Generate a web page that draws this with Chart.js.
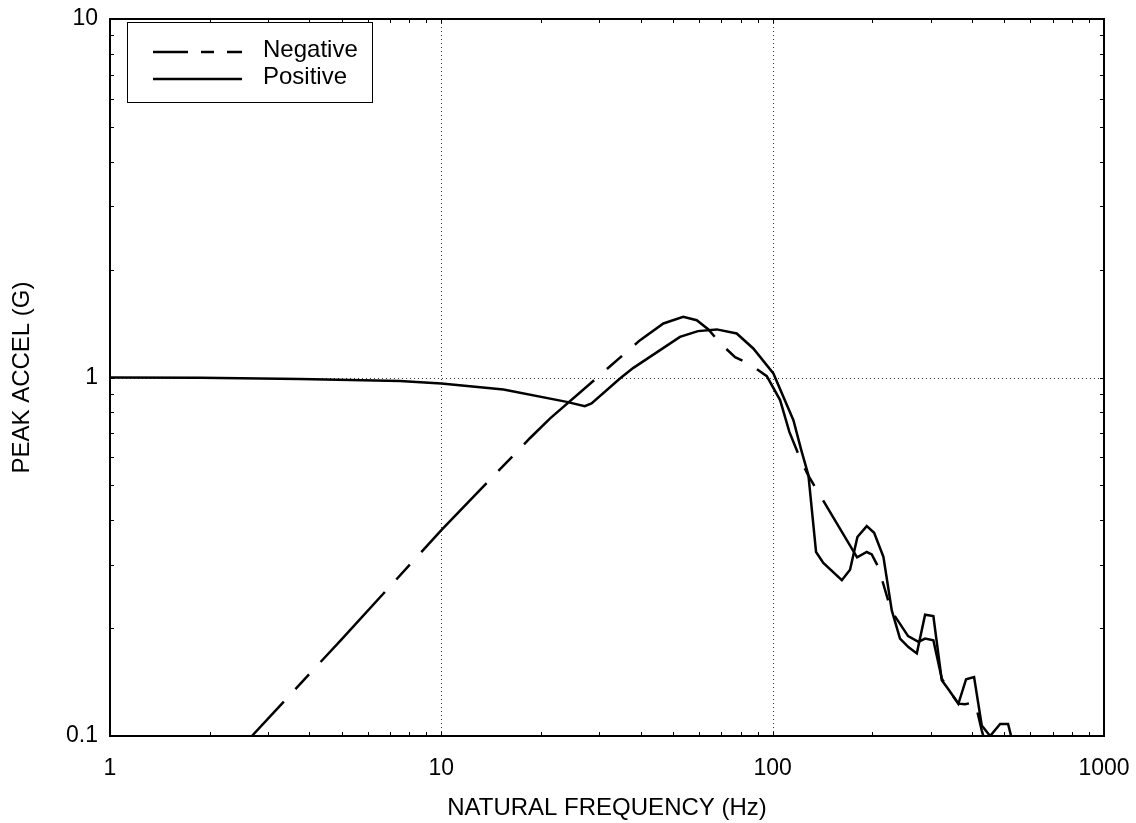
<!DOCTYPE html>
<html>
<head>
<meta charset="utf-8">
<script src="https://cdn.jsdelivr.net/npm/chart.js@4.4.0/dist/chart.umd.min.js"></script>
<style>
  body { margin: 0; background: #fff; }
</style>
</head>
<body>
<canvas id="myChart" width="1136" height="823"></canvas>
<script>
// ---- dados ----
const seriesNames = ['Negative', 'Positive'];

const negFreq  = [2.68, 5.0, 10.0, 18.5, 21.3, 30.1, 39.8, 46.8, 53.7, 59.0, 64.0, 69.4, 77.0, 84.3, 96.0, 105.3, 112.3, 121.6, 127.9,
                  179.8, 192.3, 199.1, 208.4, 227.7, 256.3, 275.4, 288.4, 305.5, 323.9, 343.2, 363.5, 380.8, 408.2, 427.6, 437.5];
const negAccel = [0.100, 0.186, 0.375, 0.677, 0.769, 1.015, 1.271, 1.415, 1.476, 1.445, 1.362, 1.247, 1.140, 1.096, 1.009, 0.865, 0.705, 0.588, 0.534,
                  0.315, 0.326, 0.321, 0.296, 0.224, 0.190, 0.183, 0.187, 0.185, 0.1446, 0.1327, 0.1231, 0.1226, 0.1244, 0.1037, 0.096];

const posFreq  = [1.0, 1.87, 3.74, 7.5, 10.0, 15.4, 23.9, 27.1, 28.4, 34.6, 37.9, 52.5, 59.5, 67.8, 77.9, 87.4, 100.5, 115.5, 122.4, 128.2,
                  135.2, 142.2, 161.7, 171.2, 180.2, 192.3, 202.4, 215.9, 228.8, 242.3, 256.8, 272.3, 288.4, 305.5, 323.9, 339.1,
                  363.5, 383.5, 405.4, 427.6, 453.2, 485.8, 513.5, 524.3, 535.0];
const posAccel = [1.0, 0.998, 0.990, 0.977, 0.9625, 0.926, 0.855, 0.832, 0.847, 0.994, 1.062, 1.298, 1.347, 1.362, 1.327, 1.205, 1.026, 0.760, 0.620, 0.534,
                  0.326, 0.304, 0.272, 0.291, 0.359, 0.385, 0.369, 0.316, 0.224, 0.187, 0.177, 0.170, 0.218, 0.216, 0.143, 0.135,
                  0.123, 0.144, 0.146, 0.107, 0.100, 0.108, 0.108, 0.100, 0.091];

const xTicks = [1, 10, 100, 1000];
const yTicks = [0.1, 1, 10];
const xGrid = [10, 100];
const yGrid = [1];

const FONTE = "'Liberation Sans', Arial, sans-serif";
const DASH_NEG = [95, 17, 20, 17];
const DASH_LEGENDA = [35, 13, 13, 13];

function pares(fs, as) {
	return fs.map(function(f, i) { return { x: f, y: as[i] }; });
}

// valores 1..9 em cada decada, para as marcas menores
function valoresLog(min, max) {
	let out = [];
	for (let d = min; d < max; d *= 10) {
		for (let k = 1; k < 10; k++) out.push(d * k);
	}
	out.push(max);
	return out;
}

const moldura = {
	id: 'moldura',
	beforeDatasetsDraw(chart) {
		const ctx = chart.ctx, a = chart.chartArea;
		const sx = chart.scales.x, sy = chart.scales.y;
		ctx.save();
		ctx.strokeStyle = '#333';
		ctx.lineWidth = 1;
		ctx.setLineDash([1, 3]);
		xGrid.forEach(function(v) {
			const px = Math.round(sx.getPixelForValue(v)) + 0.5;
			ctx.beginPath(); ctx.moveTo(px, a.top); ctx.lineTo(px, a.bottom); ctx.stroke();
		});
		yGrid.forEach(function(v) {
			const py = Math.round(sy.getPixelForValue(v)) + 0.5;
			ctx.beginPath(); ctx.moveTo(a.left, py); ctx.lineTo(a.right, py); ctx.stroke();
		});
		ctx.restore();
	},
	afterDatasetsDraw(chart) {
		const ctx = chart.ctx, a = chart.chartArea;
		const sx = chart.scales.x, sy = chart.scales.y;
		ctx.save();
		ctx.strokeStyle = '#000';
		ctx.setLineDash([]);
		// marcas
		ctx.lineWidth = 1;
		const tam = 4;
		valoresLog(1, 1000).forEach(function(v) {
			const px = Math.round(sx.getPixelForValue(v)) + 0.5;
			ctx.beginPath();
			ctx.moveTo(px, a.bottom); ctx.lineTo(px, a.bottom - tam);
			ctx.moveTo(px, a.top); ctx.lineTo(px, a.top + tam);
			ctx.stroke();
		});
		valoresLog(0.1, 10).forEach(function(v) {
			const py = Math.round(sy.getPixelForValue(v)) + 0.5;
			ctx.beginPath();
			ctx.moveTo(a.left, py); ctx.lineTo(a.left + tam, py);
			ctx.moveTo(a.right, py); ctx.lineTo(a.right - tam, py);
			ctx.stroke();
		});
		// moldura
		ctx.lineWidth = 2;
		ctx.strokeRect(a.left, a.top, a.right - a.left, a.bottom - a.top);

		// legenda
		const lx = a.left + 17, ly = a.top + 3;
		ctx.fillStyle = '#fff';
		ctx.fillRect(lx, ly, 245, 80);
		ctx.lineWidth = 1;
		ctx.strokeRect(lx + 0.5, ly + 0.5, 245, 80);
		const estilos = [DASH_LEGENDA, []];
		seriesNames.forEach(function(nome, i) {
			const y = ly + 30 + i * 27;
			ctx.lineWidth = 2.5;
			ctx.setLineDash(estilos[i]);
			ctx.beginPath(); ctx.moveTo(lx + 26, y); ctx.lineTo(lx + 115, y); ctx.stroke();
			ctx.setLineDash([]);
			ctx.fillStyle = '#000';
			ctx.font = '24px ' + FONTE;
			ctx.textBaseline = 'middle';
			ctx.textAlign = 'left';
			ctx.fillText(nome, lx + 136, y - 2);
		});
		ctx.restore();
	}
};

document.addEventListener('DOMContentLoaded', function() {
	Chart.defaults.font.family = FONTE;
	Chart.defaults.font.size = 23;
	Chart.defaults.color = '#000';

	const ctx = document.getElementById('myChart').getContext('2d');

	new Chart(ctx, {
		type: 'line',
		data: {
			datasets: [{
				label: seriesNames[0],
				data: pares(negFreq, negAccel),
				borderColor: '#000',
				borderWidth: 2.5,
				borderDash: DASH_NEG,
				borderDashOffset: 48,
				pointRadius: 0,
				tension: 0,
				fill: false
			}, {
				label: seriesNames[1],
				data: pares(posFreq, posAccel),
				borderColor: '#000',
				borderWidth: 2.5,
				pointRadius: 0,
				tension: 0,
				fill: false
			}]
		},
		options: {
			responsive: false,
			animation: false,
			layout: { padding: { top: 19, right: 32, left: 0, bottom: 0 } },
			plugins: {
				legend: { display: false },
				tooltip: { enabled: false }
			},
			scales: {
				x: {
					type: 'logarithmic',
					min: 1,
					max: 1000,
					grid: { display: false, drawTicks: false },
					border: { display: false },
					afterBuildTicks: function(s) { s.ticks = xTicks.map(function(v) { return { value: v }; }); },
					afterFit: function(s) { s.height = 87; s.paddingLeft = 0; s.paddingRight = 0; },
					ticks: {
						autoSkip: false,
						maxRotation: 0,
						padding: 19,
						callback: function(v) { return String(v); }
					},
					title: {
						display: true,
						text: 'NATURAL FREQUENCY (Hz)',
						font: { size: 24 },
						padding: { top: 1, bottom: 0 }
					}
				},
				y: {
					type: 'logarithmic',
					min: 0.1,
					max: 10,
					grid: { display: false, drawTicks: false },
					border: { display: false },
					afterBuildTicks: function(s) { s.ticks = yTicks.map(function(v) { return { value: v }; }); },
					afterFit: function(s) { s.width = 110; s.paddingTop = 0; s.paddingBottom = 0; },
					ticks: {
						autoSkip: false,
						padding: 12,
						callback: function(v) { return String(v); }
					},
					title: {
						display: true,
						text: 'PEAK ACCEL (G)',
						font: { size: 24 },
						padding: { top: 8, bottom: 0 }
					}
				}
			}
		},
		plugins: [moldura]
	});
});
</script>
</body>
</html>
